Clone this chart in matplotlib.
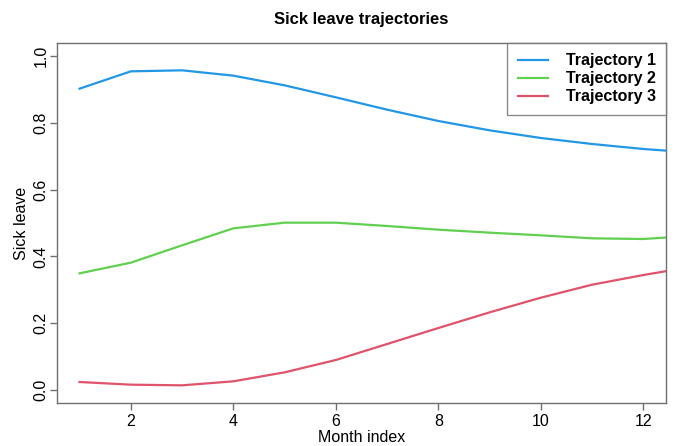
import matplotlib
matplotlib.use("Agg")
import matplotlib.pyplot as plt
import numpy as np

plt.rcParams['font.family'] = ['Liberation Sans', 'DejaVu Sans']

months = [1, 2, 3, 4, 5, 6, 7, 8, 9, 10, 11, 12, 13]
traj1 = [0.903, 0.955, 0.958, 0.942, 0.913, 0.877, 0.840, 0.806, 0.778, 0.755, 0.737, 0.722, 0.711]
traj2 = [0.349, 0.381, 0.433, 0.484, 0.501, 0.501, 0.491, 0.480, 0.471, 0.463, 0.454, 0.452, 0.462]
traj3 = [0.023, 0.015, 0.013, 0.025, 0.052, 0.089, 0.137, 0.185, 0.232, 0.276, 0.315, 0.344, 0.370]
labels = ["Trajectory 1", "Trajectory 2", "Trajectory 3"]
colors = ["#2297E6", "#61D04F", "#DF536B"]
xticks = [2, 4, 6, 8, 10, 12]
yticks = [0.0, 0.2, 0.4, 0.6, 0.8, 1.0]

fig = plt.figure(figsize=(6.79, 4.46), dpi=100)
ax = fig.add_axes([57/679, 1-403/446, (666-57)/679, (403-43)/446])

for y, lab, c in zip([traj1, traj2, traj3], labels, colors):
    ax.plot(months, y, color=c, lw=1.6, label=lab)

ax.set_xlim(0.56, 12.44)
ax.set_ylim(-0.04, 1.04)
ax.set_xticks(xticks)
ax.set_xticklabels([str(t) for t in xticks])
ax.set_yticks(yticks)
ax.set_yticklabels([f"{t:.1f}" for t in yticks], rotation=90, va='center')

gray = '#707070'
for s in ax.spines.values():
    s.set_color(gray)
    s.set_linewidth(1.0)
ax.tick_params(axis='both', colors=gray, length=5, width=1.0, labelsize=11.5, labelcolor='black')
ax.tick_params(axis='y', pad=1)
ax.tick_params(axis='x', pad=3)

ax.set_xlabel("Month index", fontsize=11.5, labelpad=1)
ax.set_ylabel("Sick leave", fontsize=11.5, labelpad=3)
ax.set_title("Sick leave trajectories", fontsize=12, fontweight='bold', pad=14)

leg = ax.legend(loc='upper right', frameon=True, fancybox=False, borderaxespad=0,
                prop={'weight': 'bold', 'size': 11.5}, handlelength=1.9, handletextpad=1.1,
                labelspacing=0.18, borderpad=0.65)
leg.get_frame().set_edgecolor(gray)
leg.get_frame().set_linewidth(1.0)

fig.savefig("out.png", dpi=100)
